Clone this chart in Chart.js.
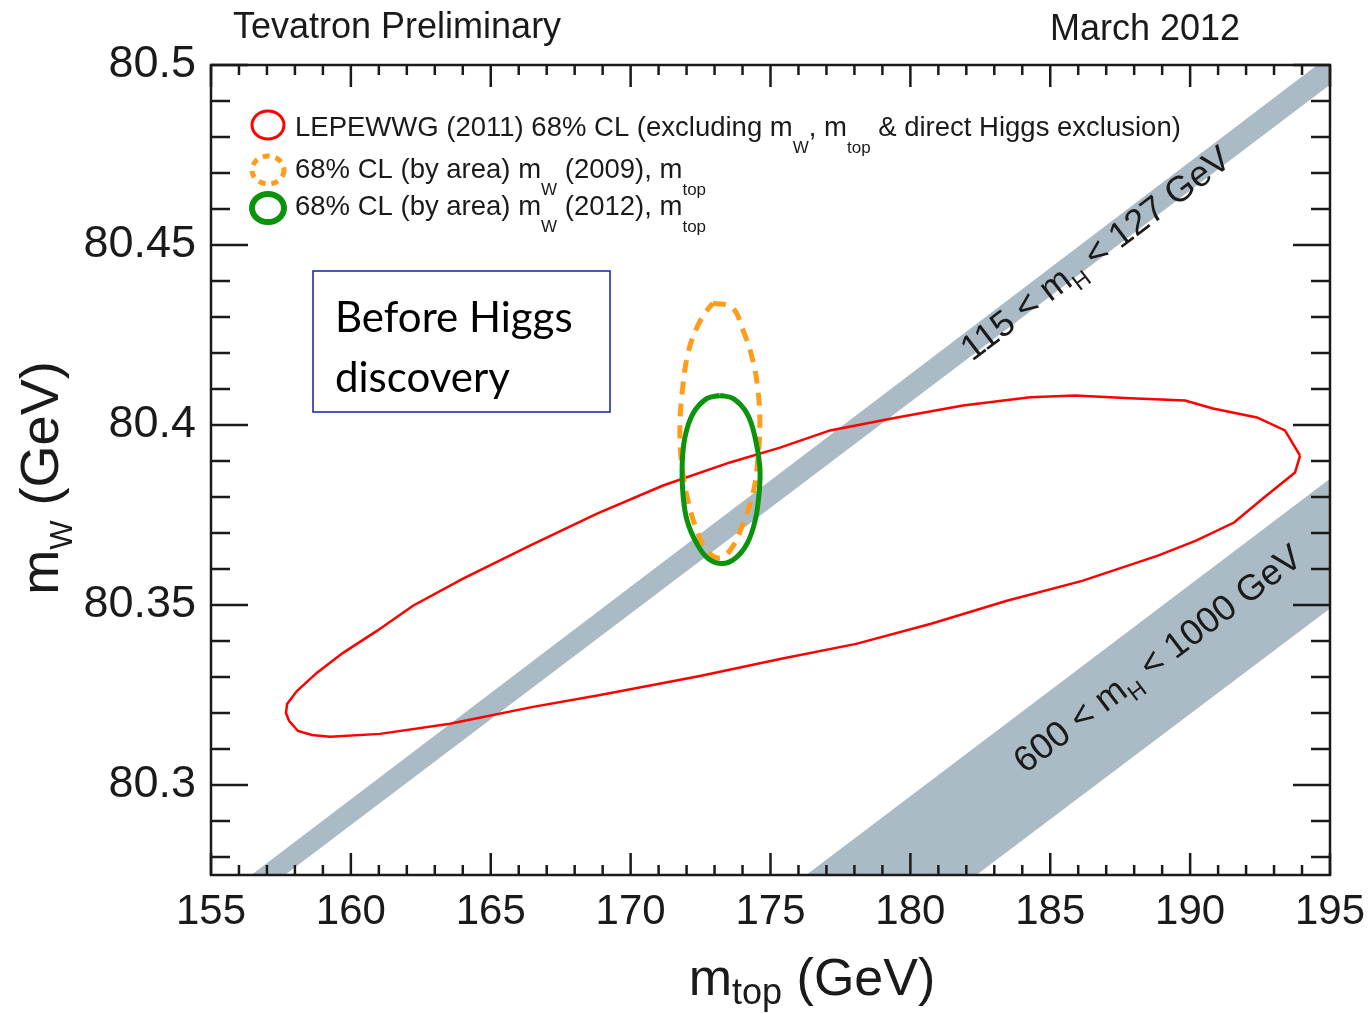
<!DOCTYPE html>
<html>
<head>
<meta charset="utf-8">
<script src="https://cdn.jsdelivr.net/npm/chart.js@4.4.1/dist/chart.umd.min.js"></script>
<style>
  html, body { margin: 0; padding: 0; background: #fff; }
  canvas { display: block; }
</style>
</head>
<body>
<canvas id="mwChart" width="1372" height="1013"></canvas>
<script>
// axes
const xRange = [155, 195];
const yRange = [80.275, 80.5];
const xTickValues = [155, 160, 165, 170, 175, 180, 185, 190, 195];
const xTickLabels = ['155', '160', '165', '170', '175', '180', '185', '190', '195'];
const yTickValues = [80.3, 80.35, 80.4, 80.45, 80.5];
const yTickLabels = ['80.3', '80.35', '80.4', '80.45', '80.5'];

// LEPEWWG (2011) 68% CL contour
const lepTop = [193.93, 193.39, 192.39, 190.82, 189.82, 187.85, 185.88, 184.28, 181.88, 179.52, 177.13, 175.34,
    173.55, 171.16, 168.80, 166.40, 164.01, 162.22, 160.93, 159.72, 158.79, 158.07, 157.72,
    157.68, 157.79, 158.11, 158.61, 159.25, 161.04, 163.54, 166.51, 168.91, 172.48, 175.34, 178.06,
    180.74, 183.45, 186.14, 188.85, 190.21, 191.57, 192.60, 193.75, 193.93];
const lepW = [80.3915, 80.3985, 80.4021, 80.4046, 80.4068, 80.4074, 80.4082, 80.4077, 80.4054, 80.4021, 80.3985, 80.3937,
    80.3896, 80.3832, 80.3754, 80.3665, 80.3573, 80.3498, 80.3428, 80.3367, 80.3312, 80.3261, 80.3225,
    80.3200, 80.3178, 80.3150, 80.3139, 80.3134, 80.3142, 80.3170, 80.3217, 80.3250, 80.3303, 80.3350, 80.3392,
    80.3448, 80.3512, 80.3567, 80.3637, 80.3679, 80.3729, 80.3796, 80.3868, 80.3915];

// 68% CL (by area) mW (2009), mtop
const tev09Top = [172.94, 173.62, 174.02, 174.37, 174.55, 174.62, 174.52, 174.37, 174.02, 173.62, 173.19, 172.73,
    172.37, 172.05, 171.84, 171.76, 171.84, 172.05, 172.37, 172.73, 172.94];
const tev09W = [80.4338, 80.4327, 80.4263, 80.4179, 80.4096, 80.4004, 80.3882, 80.3809, 80.3726, 80.3659, 80.3631, 80.3651,
    80.3707, 80.3790, 80.3882, 80.3985, 80.4088, 80.4199, 80.4271, 80.4318, 80.4338];

// 68% CL (by area) mW (2012), mtop
const tev12Top = [173.19, 173.66, 174.16, 174.45, 174.62, 174.59, 174.45, 174.16, 173.73, 173.27, 172.77, 172.37,
    172.02, 171.87, 171.84, 171.94, 172.23, 172.73, 173.19];
const tev12W = [80.4082, 80.4074, 80.4032, 80.3965, 80.3882, 80.3809, 80.3734, 80.3670, 80.3629, 80.3615, 80.3629, 80.3670,
    80.3734, 80.3809, 80.3882, 80.3965, 80.4032, 80.4074, 80.4082];

// SM bands: 115 < mH < 127 GeV and 600 < mH < 1000 GeV (corners, clipped by the frame)
const bandLowTop = [155, 195, 195, 155];
const bandLowW = [80.2665, 80.5027, 80.4945, 80.2595];
const bandHighTop = [175, 195, 195, 180];
const bandHighW = [80.2675, 80.3851, 80.3490, 80.2612];

const toPoints = (xs, ys) => xs.map((v, i) => ({ x: v, y: ys[i] }));

const ink = '#1a1a1a';
const bandColor = 'rgb(170, 187, 198)';
const sans = '"Liberation Sans", Arial, sans-serif';

// text with subscripts: parts are strings or {sub: '...'}
function richWidth(ctx, parts, size, subSize) {
    let w = 0;
    for (const p of parts) {
        const sub = typeof p !== 'string';
        ctx.font = (sub ? subSize : size) + 'px ' + sans;
        w += ctx.measureText(sub ? p.sub : p).width;
    }
    return w;
}
function richText(ctx, x, y, parts, size, subSize, subDy) {
    let cx = x;
    for (const p of parts) {
        const sub = typeof p !== 'string';
        const t = sub ? p.sub : p;
        ctx.font = (sub ? subSize : size) + 'px ' + sans;
        ctx.fillText(t, cx, y + (sub ? subDy : 0));
        cx += ctx.measureText(t).width;
    }
}

const framePlugin = {
    id: 'frame',
    afterDatasetsDraw(chart) {
        const { ctx, chartArea: a, scales: { x, y } } = chart;
        ctx.save();
        ctx.strokeStyle = ink;
        ctx.lineWidth = 2.5;
        ctx.strokeRect(a.left, a.top, a.right - a.left, a.bottom - a.top);
        ctx.beginPath();
        for (let k = xRange[0]; k <= xRange[1]; k++) {
            const px = x.getPixelForValue(k);
            const len = k % 5 === 0 ? 22 : 10;
            ctx.moveTo(px, a.bottom); ctx.lineTo(px, a.bottom - len);
            ctx.moveTo(px, a.top); ctx.lineTo(px, a.top + len);
        }
        for (let k = 8028; k <= 8050; k++) {
            const py = y.getPixelForValue(k / 100);
            const len = k % 5 === 0 ? 37 : 19;
            ctx.moveTo(a.left, py); ctx.lineTo(a.left + len, py);
            ctx.moveTo(a.right, py); ctx.lineTo(a.right - len, py);
        }
        ctx.stroke();
        ctx.restore();
    }
};

const notesPlugin = {
    id: 'notes',
    afterDraw(chart) {
        const { ctx, scales: { x, y } } = chart;
        ctx.save();
        ctx.fillStyle = ink;
        ctx.textBaseline = 'alphabetic';
        ctx.textAlign = 'left';

        // header
        ctx.font = '36px ' + sans;
        ctx.fillText('Tevatron Preliminary', 233, 38);
        ctx.fillText('March 2012', 1050, 40);

        // axis titles
        const xt = ['m', { sub: 'top' }, ' (GeV)'];
        const xw = richWidth(ctx, xt, 52, 36);
        richText(ctx, 812 - xw / 2, 995, xt, 52, 36, 9);

        const yt = ['m', { sub: 'W' }, ' (GeV)'];
        const yw = richWidth(ctx, yt, 54, 31);
        ctx.save();
        ctx.translate(58, 478);
        ctx.rotate(-Math.PI / 2);
        richText(ctx, -yw / 2, 0, yt, 54, 31, 14);
        ctx.restore();

        // legend
        const marks = [
            { cy: 125, color: 'rgb(255,0,0)', lw: 3, dash: [] },
            { cy: 170, color: '#ff9c1a', lw: 5, dash: [7, 6] },
            { cy: 208, color: '#0b940b', lw: 6, dash: [] }
        ];
        for (const m of marks) {
            ctx.beginPath();
            ctx.setLineDash(m.dash);
            ctx.strokeStyle = m.color;
            ctx.lineWidth = m.lw;
            ctx.ellipse(268, m.cy, 16, 14, 0, 0, Math.PI * 2);
            ctx.stroke();
        }
        ctx.setLineDash([]);
        richText(ctx, 295, 136, ['LEPEWWG (2011) 68% CL (excluding m', { sub: 'W' }, ', m', { sub: 'top' },
            ' & direct Higgs exclusion)'], 27.5, 17, 17);
        richText(ctx, 295, 178, ['68% CL (by area) m', { sub: 'W' }, ' (2009), m', { sub: 'top' }], 27.5, 17, 17);
        richText(ctx, 295, 215, ['68% CL (by area) m', { sub: 'W' }, ' (2012), m', { sub: 'top' }], 27.5, 17, 17);

        // band labels, rotated along the bands
        const ang = Math.atan2(
            y.getPixelForValue(bandLowW[1]) - y.getPixelForValue(bandLowW[0]),
            x.getPixelForValue(bandLowTop[1]) - x.getPixelForValue(bandLowTop[0]));
        const labels = [
            { at: [182.2, 80.4175], parts: ['115 < m', { sub: 'H' }, ' < 127 GeV'] },
            { at: [184.1, 80.3030], parts: ['600 < m', { sub: 'H' }, ' < 1000 GeV'] }
        ];
        for (const l of labels) {
            ctx.save();
            ctx.translate(x.getPixelForValue(l.at[0]), y.getPixelForValue(l.at[1]));
            ctx.rotate(ang);
            richText(ctx, 0, 0, l.parts, 36, 23, 9);
            ctx.restore();
        }

        // note box
        ctx.fillStyle = '#fff';
        ctx.fillRect(313, 271, 297, 141);
        ctx.strokeStyle = '#1f2fa8';
        ctx.lineWidth = 1.6;
        ctx.strokeRect(313, 271, 297, 141);
        ctx.fillStyle = '#000';
        ctx.font = '42px Lato, "Open Sans", sans-serif';
        ctx.fillText('Before Higgs', 335, 332);
        ctx.fillText('discovery', 335, 392);
        ctx.restore();
    }
};

const ctxEl = document.getElementById('mwChart');
new Chart(ctxEl, {
    type: 'scatter',
    data: {
        datasets: [
            {
                label: '68% CL (by area) mW (2012), mtop',
                data: toPoints(tev12Top, tev12W),
                showLine: true, borderColor: '#0b940b', borderWidth: 5,
                pointRadius: 0, tension: 0.4, fill: false
            },
            {
                label: '68% CL (by area) mW (2009), mtop',
                data: toPoints(tev09Top, tev09W),
                showLine: true, borderColor: '#ff9c1a', borderWidth: 5, borderDash: [13, 9],
                pointRadius: 0, tension: 0.4, fill: false
            },
            {
                label: 'LEPEWWG (2011) 68% CL',
                data: toPoints(lepTop, lepW),
                showLine: true, borderColor: 'rgb(255,0,0)', borderWidth: 2.5,
                pointRadius: 0, tension: 0, fill: false
            },
            {
                label: '115 < mH < 127 GeV',
                data: toPoints(bandLowTop, bandLowW),
                showLine: true, borderWidth: 0, borderColor: 'rgba(0,0,0,0)',
                backgroundColor: bandColor, pointRadius: 0, fill: 'shape'
            },
            {
                label: '600 < mH < 1000 GeV',
                data: toPoints(bandHighTop, bandHighW),
                showLine: true, borderWidth: 0, borderColor: 'rgba(0,0,0,0)',
                backgroundColor: bandColor, pointRadius: 0, fill: 'shape'
            }
        ]
    },
    options: {
        responsive: false,
        devicePixelRatio: 1,
        animation: false,
        layout: { padding: { top: 65, right: 42, left: 0, bottom: 0 } },
        plugins: {
            legend: { display: false },
            tooltip: { enabled: false }
        },
        scales: {
            x: {
                type: 'linear',
                min: xRange[0],
                max: xRange[1],
                afterBuildTicks: s => { s.ticks = xTickValues.map(v => ({ value: v })); },
                afterFit: s => { s.height = 138; s.paddingLeft = 0; s.paddingRight = 0; },
                grid: { display: false, drawTicks: false },
                border: { display: false },
                ticks: {
                    autoSkip: false,
                    maxRotation: 0,
                    padding: 12,
                    color: ink,
                    font: { family: 'Liberation Sans', size: 42 },
                    callback: v => xTickLabels[xTickValues.indexOf(v)]
                }
            },
            y: {
                type: 'linear',
                min: yRange[0],
                max: yRange[1],
                afterBuildTicks: s => { s.ticks = yTickValues.map(v => ({ value: v })); },
                afterFit: s => { s.width = 211; s.paddingTop = 0; s.paddingBottom = 0; },
                grid: { display: false, drawTicks: false },
                border: { display: false },
                ticks: {
                    autoSkip: false,
                    padding: 15,
                    color: ink,
                    font: { family: 'Liberation Sans', size: 45 },
                    callback: v => yTickLabels[yTickValues.findIndex(t => Math.abs(t - v) < 1e-6)]
                }
            }
        }
    },
    plugins: [framePlugin, notesPlugin]
});
</script>
</body>
</html>
